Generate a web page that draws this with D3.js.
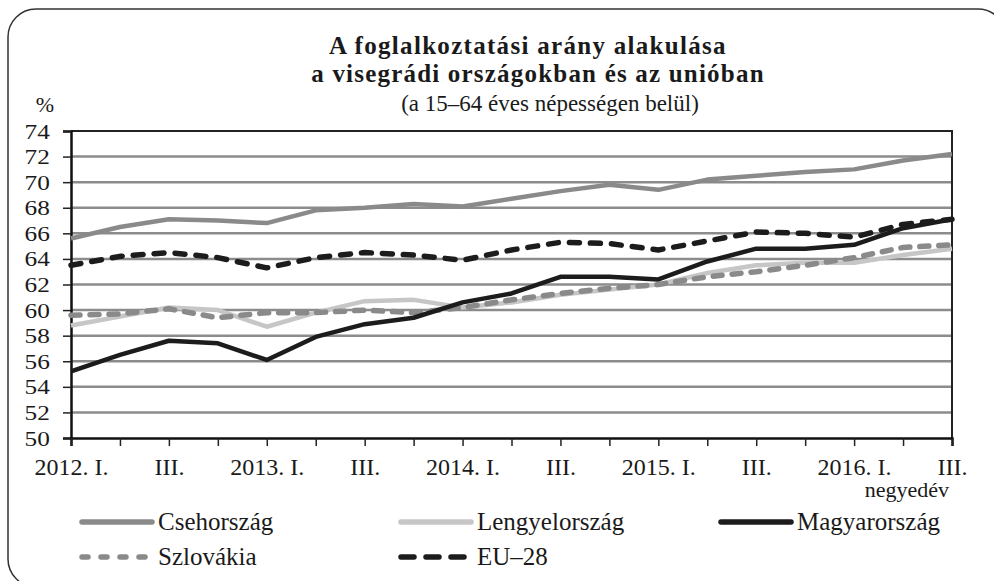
<!DOCTYPE html>
<html>
<head>
    <meta charset="utf-8">
    <title>A foglalkoztatási arány alakulása</title>
    <script src="https://cdn.jsdelivr.net/npm/d3@7/dist/d3.min.js" type="text/javascript"></script>
    <style type="text/css">
        body { margin: 0; background: #fff; }
        svg text { font-family: "Liberation Serif", "DejaVu Serif", serif; fill: #1a1a1a; }
    </style>
</head>
<body>
<div id="chart"></div>
<script type="text/javascript">
    // quarters 2012 Q1 .. 2016 Q3
    var quarters = ["2012. I.", "II.", "III.", "IV.", "2013. I.", "II.", "III.", "IV.",
                    "2014. I.", "II.", "III.", "IV.", "2015. I.", "II.", "III.", "IV.",
                    "2016. I.", "II.", "III."];
    var yTicks = [50, 52, 54, 56, 58, 60, 62, 64, 66, 68, 70, 72, 74];

    var cseh     = [65.6, 66.5, 67.1, 67.0, 66.8, 67.8, 68.0, 68.3, 68.1, 68.7, 69.3, 69.8, 69.4, 70.2, 70.5, 70.8, 71.0, 71.7, 72.2];
    var lengyel  = [58.8, 59.5, 60.2, 60.0, 58.7, 59.8, 60.7, 60.8, 60.2, 60.6, 61.2, 61.6, 62.0, 62.9, 63.5, 63.7, 63.7, 64.3, 64.8];
    var magyar   = [55.2, 56.5, 57.6, 57.4, 56.1, 57.9, 58.9, 59.4, 60.6, 61.3, 62.6, 62.6, 62.4, 63.8, 64.8, 64.8, 65.1, 66.4, 67.1];
    var szlovak  = [59.6, 59.7, 60.1, 59.4, 59.8, 59.8, 60.0, 59.8, 60.2, 60.8, 61.3, 61.7, 62.0, 62.6, 63.0, 63.5, 64.1, 64.9, 65.1];
    var eu28     = [63.5, 64.2, 64.5, 64.1, 63.3, 64.1, 64.5, 64.3, 63.9, 64.7, 65.3, 65.2, 64.7, 65.4, 66.1, 66.0, 65.7, 66.7, 67.1];

    var series = [
        {name: "Csehország",     values: cseh,    color: "#8a8a8a", dash: null},
        {name: "Lengyelország",  values: lengyel, color: "#c6c6c6", dash: null},
        {name: "Magyarország",   values: magyar,  color: "#1c1c1c", dash: null},
        {name: "Szlovákia",      values: szlovak, color: "#8a8a8a", dash: "9,10"},
        {name: "EU–28",          values: eu28,    color: "#1c1c1c", dash: "10,11"}
    ];
    // drawing order: light ones first so dark ones stay on top
    var drawOrder = [1, 0, 3, 2, 4];

    var width = 994, height = 581;
    var vis = d3.select('#chart')
            .append('svg:svg')
            .attr('width', width)
            .attr('height', height);

    // rounded frame, partly running off the page
    vis.append('rect')
        .attr('x', 8).attr('y', 9)
        .attr('width', 998).attr('height', 578)
        .attr('rx', 28).attr('ry', 28)
        .attr('fill', 'none')
        .attr('stroke', '#333')
        .attr('stroke-width', 1.5);

    // titles
    vis.append('text').attr('x', 528).attr('y', 54)
        .attr('text-anchor', 'middle').attr('font-size', 25).attr('font-weight', 'bold')
        .attr('letter-spacing', 1.3)
        .text('A foglalkoztatási arány alakulása');
    vis.append('text').attr('x', 538).attr('y', 82)
        .attr('text-anchor', 'middle').attr('font-size', 25).attr('font-weight', 'bold')
        .attr('letter-spacing', 1.2)
        .text('a visegrádi országokban és az unióban');
    vis.append('text').attr('x', 550).attr('y', 111)
        .attr('text-anchor', 'middle').attr('font-size', 23)
        .text('(a 15–64 éves népességen belül)');

    var plotLeft = 71, plotRight = 952, plotTop = 131, plotBottom = 438;
    var x = d3.scaleLinear().domain([0, quarters.length - 1]).range([plotLeft, plotRight]);
    var y = d3.scaleLinear().domain([50, 74]).range([plotBottom, plotTop]);

    // unit
    vis.append('text').attr('x', 45).attr('y', 112)
        .attr('text-anchor', 'middle').attr('font-size', 22).text('%');

    // gridlines
    vis.append('g').selectAll('line')
        .data(yTicks.filter(function(d) { return d > 50 && d < 74; }))
        .enter().append('line')
        .attr('x1', plotLeft).attr('x2', plotRight)
        .attr('y1', function(d) { return y(d); })
        .attr('y2', function(d) { return y(d); })
        .attr('stroke', '#8c8c8c')
        .attr('stroke-width', 2.5);

    // plot frame top and right
    vis.append('path')
        .attr('d', 'M' + plotLeft + ',' + y(74) + 'H' + plotRight + 'V' + plotBottom)
        .attr('fill', 'none').attr('stroke', '#222').attr('stroke-width', 2);

    // axes
    var yAxis = d3.axisLeft(y).tickValues(yTicks).tickSize(8).tickPadding(12);
    var gy = vis.append('g').attr('transform', 'translate(' + plotLeft + ',0)').call(yAxis);
    gy.selectAll('text').attr('font-size', 22).attr('fill', '#1a1a1a')
        .attr('transform', 'scale(1.15,1)')
        .style('font-family', '"Liberation Serif", serif');
    gy.selectAll('.tick text').attr('x', -20 / 1.15 - 1);

    var xAxis = d3.axisBottom(x)
        .tickValues(d3.range(quarters.length))
        .tickSize(8).tickPadding(12)
        .tickFormat(function(i) { return i % 2 === 0 ? quarters[i] : ''; });
    var gx = vis.append('g').attr('transform', 'translate(0,' + plotBottom + ')').call(xAxis);
    gx.selectAll('text').attr('font-size', 24).attr('fill', '#1a1a1a')
        .style('font-family', '"Liberation Serif", serif');

    [gx, gy].forEach(function(g) {
        g.select('.domain').attr('stroke', '#111').attr('stroke-width', 2.5);
        g.selectAll('.tick line').attr('stroke', '#222').attr('stroke-width', 1.5);
    });

    vis.append('text').attr('x', 949).attr('y', 497)
        .attr('text-anchor', 'end').attr('font-size', 22).text('negyedév');

    // lines
    var line = d3.line()
        .x(function(d, i) { return x(i); })
        .y(function(d) { return y(d); });

    drawOrder.forEach(function(k) {
        var s = series[k];
        vis.append('path')
            .datum(s.values)
            .attr('d', line)
            .attr('fill', 'none')
            .attr('stroke', s.color)
            .attr('stroke-width', s.dash ? 5.5 : 4.5)
            .attr('stroke-linecap', s.dash ? 'round' : 'butt')
            .attr('stroke-linejoin', 'round')
            .attr('stroke-dasharray', s.dash);
    });

    // legend
    var legendPos = [
        {lx: 82, ly: 522}, {lx: 401, ly: 522}, {lx: 721, ly: 522},
        {lx: 82, ly: 557}, {lx: 401, ly: 557}
    ];
    series.forEach(function(s, k) {
        var p = legendPos[k];
        vis.append('line')
            .attr('x1', p.lx).attr('x2', p.lx + 70)
            .attr('y1', p.ly).attr('y2', p.ly)
            .attr('stroke', s.color)
            .attr('stroke-width', 5.5)
            .attr('stroke-linecap', 'round')
            .attr('stroke-dasharray', s.dash ? (k === 3 ? '6,13' : '13,12') : null);
        vis.append('text')
            .attr('x', p.lx + 76).attr('y', p.ly + 8)
            .attr('font-size', 25)
            .text(s.name);
    });
</script>
</body>
</html>
